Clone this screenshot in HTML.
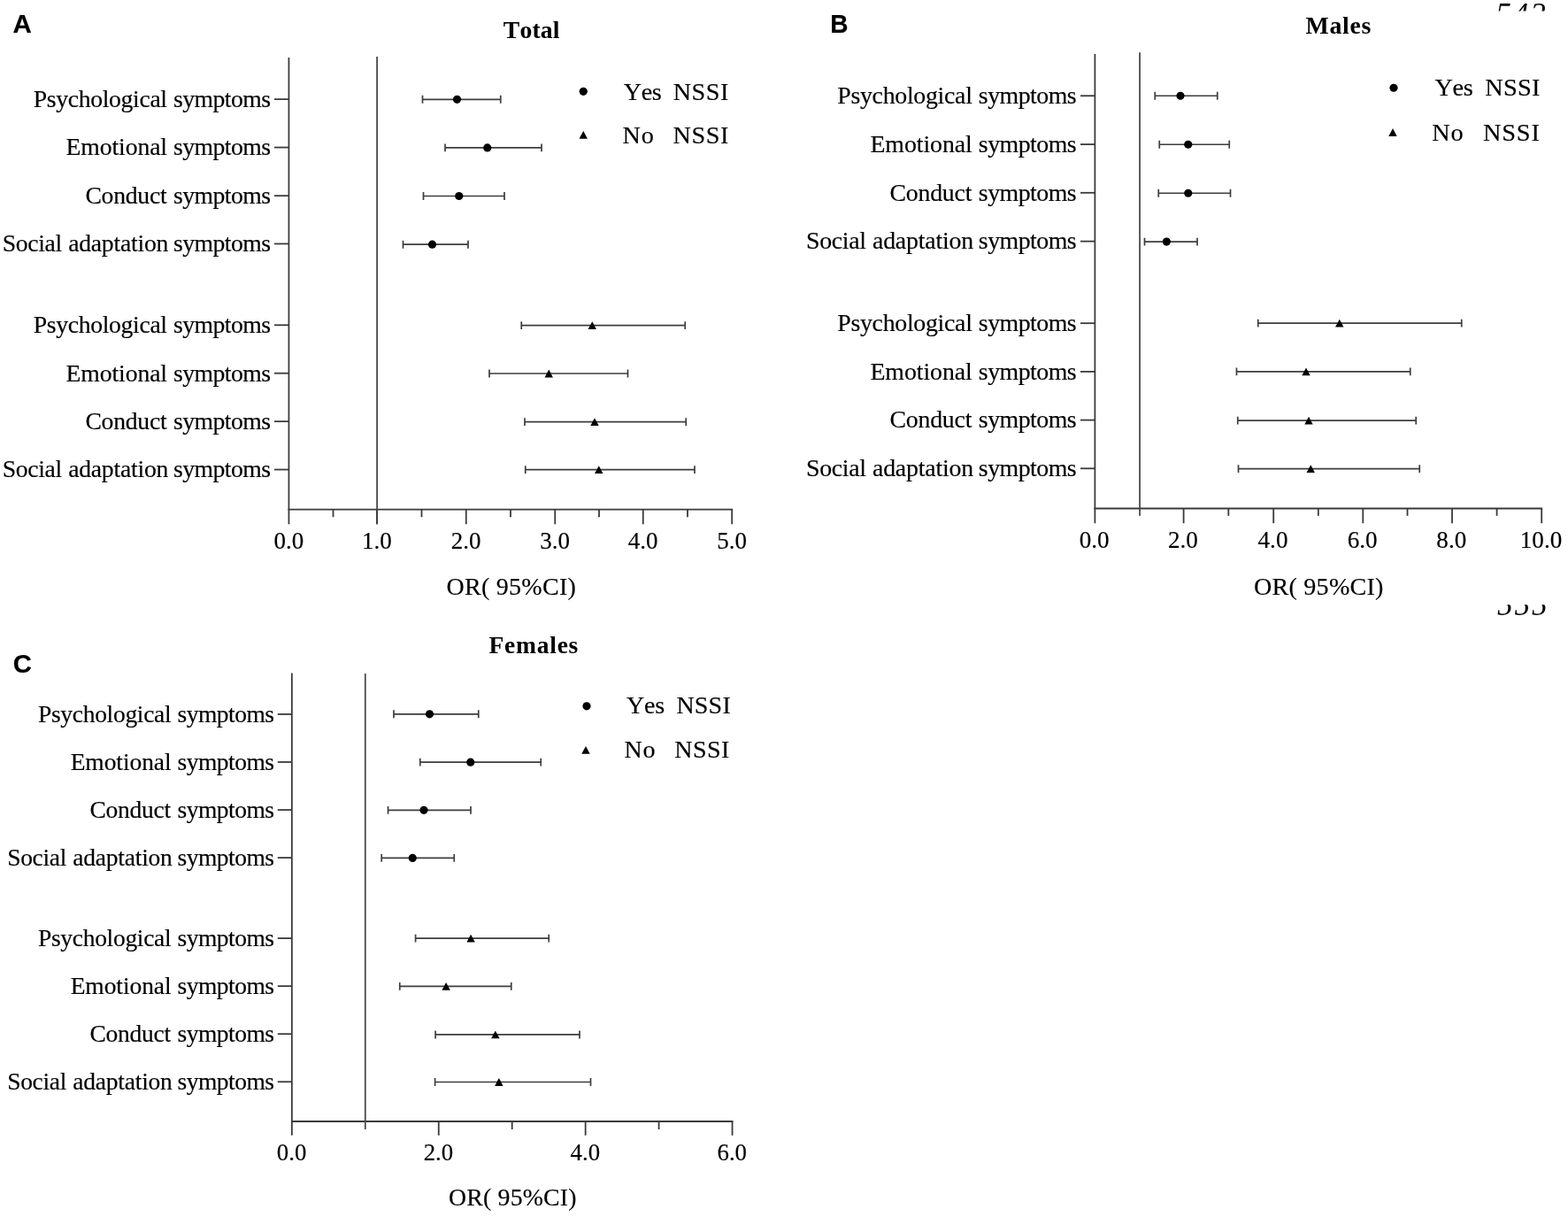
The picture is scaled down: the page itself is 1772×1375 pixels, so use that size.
<!DOCTYPE html>
<html lang="en">
<head>
<meta charset="utf-8">
<title>OR( 95%CI)</title>
<style>
html, body { margin: 0; padding: 0; background: #fff; }
body { width: 1772px; height: 1375px; overflow: hidden; }
svg { display: block; }
text { fill: #000; font-kerning: none; white-space: pre; }
.s text { font-family: "Liberation Serif", "Times New Roman", serif; stroke: #000; stroke-width: 0.16px; }
.t { font-family: "Liberation Serif", "Times New Roman", serif; font-weight: bold; }
.p { font-family: "Liberation Sans", Arial, sans-serif; font-size: 30.5px; font-weight: bold; stroke: #000; stroke-width: 0.2px; }
.n { font-family: "Liberation Serif", "Times New Roman", serif; font-size: 35px; font-style: italic; letter-spacing: 2px; }
</style>
</head>
<body>
<svg width="1772" height="1375" viewBox="0 0 1772 1375">
<defs>
<clipPath id="c1"><rect x="1680" y="0" width="92" height="12.6"/></clipPath>
<clipPath id="c2"><rect x="1680" y="683.2" width="92" height="20"/></clipPath>
</defs>
<rect width="1772" height="1375" fill="#fff"/>
<g clip-path="url(#c1)"><text class="n" x="1690.2" y="28.1">542</text></g>
<g clip-path="url(#c2)"><text class="n" x="1692" y="694.95">555</text></g>
<g stroke="#3a3a3a" stroke-width="1.8" fill="none">
<line x1="326.45" y1="65.1" x2="326.45" y2="592.3"/>
<line x1="325.55" y1="575.55" x2="828.1" y2="575.55"/>
<line x1="426.1" y1="64" x2="426.1" y2="592.3" stroke="#4a4a4a"/>
<line x1="426.1" y1="575.55" x2="426.1" y2="592.3"/>
<line x1="526.75" y1="575.55" x2="526.75" y2="592.3"/>
<line x1="627.25" y1="575.55" x2="627.25" y2="592.3"/>
<line x1="726.75" y1="575.55" x2="726.75" y2="592.3"/>
<line x1="827.2" y1="575.55" x2="827.2" y2="592.3"/>
<line x1="376.5" y1="575.55" x2="376.5" y2="584.2"/>
<line x1="476.5" y1="575.55" x2="476.5" y2="584.2"/>
<line x1="577" y1="575.55" x2="577" y2="584.2"/>
<line x1="677" y1="575.55" x2="677" y2="584.2"/>
<line x1="777" y1="575.55" x2="777" y2="584.2"/>
<line x1="310" y1="112.13" x2="326.45" y2="112.13"/>
<line x1="310" y1="166.57" x2="326.45" y2="166.57"/>
<line x1="310" y1="221.17" x2="326.45" y2="221.17"/>
<line x1="310" y1="275.46" x2="326.45" y2="275.46"/>
<line x1="310" y1="367.3" x2="326.45" y2="367.3"/>
<line x1="310" y1="421.7" x2="326.45" y2="421.7"/>
<line x1="310" y1="476.15" x2="326.45" y2="476.15"/>
<line x1="310" y1="530.55" x2="326.45" y2="530.55"/>
</g>
<g stroke="#3d3d3d" stroke-width="1.7" fill="none">
<path d="M477.5 112.3H565.75M477.5 107.85V116.75M565.75 107.85V116.75"/>
<path d="M503 166.9H612M503 162.45V171.35M612 162.45V171.35"/>
<path d="M478.5 221.5H570M478.5 217.05V225.95M570 217.05V225.95"/>
<path d="M455.5 276.2H529M455.5 271.75V280.65M529 271.75V280.65"/>
<path d="M589.25 367.65H774.25M589.25 363.2V372.1M774.25 363.2V372.1"/>
<path d="M553 422H709.5M553 417.55V426.45M709.5 417.55V426.45"/>
<path d="M593 476.65H775.25M593 472.2V481.1M775.25 472.2V481.1"/>
<path d="M593.75 530.6H785M593.75 526.15V535.05M785 526.15V535.05"/>
</g>
<g fill="#000">
<circle cx="516.5" cy="112.3" r="4.6"/>
<circle cx="550.75" cy="166.9" r="4.6"/>
<circle cx="518.75" cy="221.5" r="4.6"/>
<circle cx="488.5" cy="276.2" r="4.6"/>
<path d="M669.25 363.25L673.95 372.05H664.55Z"/>
<path d="M620.25 417.6L624.95 426.4H615.55Z"/>
<path d="M672 472.25L676.7 481.05H667.3Z"/>
<path d="M676.75 526.2L681.45 535H672.05Z"/>
<circle cx="659.25" cy="103.3" r="4.6"/>
<path d="M659.25 147.9L663.95 156.7H654.55Z"/>
</g>
<g class="s">
<text y="120.93" style="font-size:27.7px;"><tspan x="37.66" style="letter-spacing:-0.33px">Psychological</tspan> <tspan x="195.99" style="letter-spacing:-0.55px">symptoms</tspan></text>
<text y="175.37" style="font-size:27.7px;"><tspan x="74.57" style="letter-spacing:-0.11px">Emotional</tspan> <tspan x="195.99" style="letter-spacing:-0.55px">symptoms</tspan></text>
<text y="229.97" style="font-size:27.7px;"><tspan x="96.39" style="letter-spacing:-0.26px">Conduct</tspan> <tspan x="195.99" style="letter-spacing:-0.55px">symptoms</tspan></text>
<text y="284.26" style="font-size:27.7px;"><tspan x="2.7" style="letter-spacing:-0.33px">Social</tspan> <tspan x="77.13" style="letter-spacing:-0.23px">adaptation</tspan> <tspan x="195.99" style="letter-spacing:-0.55px">symptoms</tspan></text>
<text y="376.1" style="font-size:27.7px;"><tspan x="37.66" style="letter-spacing:-0.33px">Psychological</tspan> <tspan x="195.99" style="letter-spacing:-0.55px">symptoms</tspan></text>
<text y="430.5" style="font-size:27.7px;"><tspan x="74.57" style="letter-spacing:-0.11px">Emotional</tspan> <tspan x="195.99" style="letter-spacing:-0.55px">symptoms</tspan></text>
<text y="484.95" style="font-size:27.7px;"><tspan x="96.39" style="letter-spacing:-0.26px">Conduct</tspan> <tspan x="195.99" style="letter-spacing:-0.55px">symptoms</tspan></text>
<text y="539.35" style="font-size:27.7px;"><tspan x="2.7" style="letter-spacing:-0.33px">Social</tspan> <tspan x="77.13" style="letter-spacing:-0.23px">adaptation</tspan> <tspan x="195.99" style="letter-spacing:-0.55px">symptoms</tspan></text>
<text x="326.25" y="620.2" text-anchor="middle" style="font-size:27px">0.0</text>
<text x="425.9" y="620.2" text-anchor="middle" style="font-size:27px">1.0</text>
<text x="526.55" y="620.2" text-anchor="middle" style="font-size:27px">2.0</text>
<text x="627.05" y="620.2" text-anchor="middle" style="font-size:27px">3.0</text>
<text x="726.55" y="620.2" text-anchor="middle" style="font-size:27px">4.0</text>
<text x="827" y="620.2" text-anchor="middle" style="font-size:27px">5.0</text>
<text y="671.8" style="font-size:28px;"><tspan x="504.48" style="letter-spacing:0.28px">OR( 95%CI)</tspan></text>
<text y="112.5" style="font-size:28.2px;"><tspan x="704.82" style="letter-spacing:-0.46px">Yes</tspan> <tspan x="760.79" style="letter-spacing:0.47px">NSSI</tspan></text>
<text y="162" style="font-size:28.2px;"><tspan x="703.6" style="letter-spacing:0.73px">No</tspan> <tspan x="760.5" style="letter-spacing:0.57px">NSSI</tspan></text>
</g>
<text class="t" y="43" style="font-size:27.7px;"><tspan x="568.73" style="letter-spacing:0.19px">Total</tspan></text>
<text class="p" transform="translate(14.6 37.1) scale(1.015 1)" style="font-size:29.0px">A</text>
<g stroke="#3a3a3a" stroke-width="1.8" fill="none">
<line x1="1237.4" y1="60.9" x2="1237.4" y2="591.2"/>
<line x1="1236.5" y1="574.5" x2="1743.1" y2="574.5"/>
<line x1="1288.05" y1="59.3" x2="1288.05" y2="582.8" stroke="#4a4a4a"/>
<line x1="1337.6" y1="574.5" x2="1337.6" y2="591.2"/>
<line x1="1439.2" y1="574.5" x2="1439.2" y2="591.2"/>
<line x1="1540.3" y1="574.5" x2="1540.3" y2="591.2"/>
<line x1="1641" y1="574.5" x2="1641" y2="591.2"/>
<line x1="1742.2" y1="574.5" x2="1742.2" y2="591.2"/>
<line x1="1388.3" y1="574.5" x2="1388.3" y2="582.8"/>
<line x1="1489.8" y1="574.5" x2="1489.8" y2="582.8"/>
<line x1="1590.5" y1="574.5" x2="1590.5" y2="582.8"/>
<line x1="1691.6" y1="574.5" x2="1691.6" y2="582.8"/>
<line x1="1221" y1="108.25" x2="1237.4" y2="108.25"/>
<line x1="1221" y1="163.1" x2="1237.4" y2="163.1"/>
<line x1="1221" y1="217.8" x2="1237.4" y2="217.8"/>
<line x1="1221" y1="272.65" x2="1237.4" y2="272.65"/>
<line x1="1221" y1="365.2" x2="1237.4" y2="365.2"/>
<line x1="1221" y1="419.9" x2="1237.4" y2="419.9"/>
<line x1="1221" y1="474.6" x2="1237.4" y2="474.6"/>
<line x1="1221" y1="529.3" x2="1237.4" y2="529.3"/>
</g>
<g stroke="#3d3d3d" stroke-width="1.7" fill="none">
<path d="M1305.25 108.25H1375.75M1305.25 103.8V112.7M1375.75 103.8V112.7"/>
<path d="M1310.25 163.26H1389.25M1310.25 158.81V167.71M1389.25 158.81V167.71"/>
<path d="M1309.25 218.26H1390.5M1309.25 213.81V222.71M1390.5 213.81V222.71"/>
<path d="M1293.5 273.1H1353M1293.5 268.65V277.55M1353 268.65V277.55"/>
<path d="M1421.75 365.15H1651.75M1421.75 360.7V369.6M1651.75 360.7V369.6"/>
<path d="M1397.45 419.85H1593.75M1397.45 415.4V424.3M1593.75 415.4V424.3"/>
<path d="M1398.75 475.1H1600.25M1398.75 470.65V479.55M1600.25 470.65V479.55"/>
<path d="M1399.5 529.6H1604.25M1399.5 525.15V534.05M1604.25 525.15V534.05"/>
</g>
<g fill="#000">
<circle cx="1334" cy="108.25" r="4.6"/>
<circle cx="1342.75" cy="163.26" r="4.6"/>
<circle cx="1342.75" cy="218.26" r="4.6"/>
<circle cx="1318.35" cy="273.1" r="4.6"/>
<path d="M1513.75 360.75L1518.45 369.55H1509.05Z"/>
<path d="M1476 415.45L1480.7 424.25H1471.3Z"/>
<path d="M1479 470.7L1483.7 479.5H1474.3Z"/>
<path d="M1481.25 525.2L1485.95 534H1476.55Z"/>
<circle cx="1575" cy="99.25" r="4.6"/>
<path d="M1574 145.1L1578.7 153.9H1569.3Z"/>
</g>
<g class="s">
<text y="117.09" style="font-size:27.84px;"><tspan x="946.22" style="letter-spacing:-0.29px">Psychological</tspan> <tspan x="1105.82" style="letter-spacing:-0.51px">symptoms</tspan></text>
<text y="171.94" style="font-size:27.84px;"><tspan x="983.42" style="letter-spacing:-0.07px">Emotional</tspan> <tspan x="1105.82" style="letter-spacing:-0.51px">symptoms</tspan></text>
<text y="226.64" style="font-size:27.84px;"><tspan x="1005.42" style="letter-spacing:-0.22px">Conduct</tspan> <tspan x="1105.82" style="letter-spacing:-0.51px">symptoms</tspan></text>
<text y="281.49" style="font-size:27.84px;"><tspan x="910.98" style="letter-spacing:-0.29px">Social</tspan> <tspan x="986.01" style="letter-spacing:-0.2px">adaptation</tspan> <tspan x="1105.82" style="letter-spacing:-0.51px">symptoms</tspan></text>
<text y="374.04" style="font-size:27.84px;"><tspan x="946.22" style="letter-spacing:-0.29px">Psychological</tspan> <tspan x="1105.82" style="letter-spacing:-0.51px">symptoms</tspan></text>
<text y="428.74" style="font-size:27.84px;"><tspan x="983.42" style="letter-spacing:-0.07px">Emotional</tspan> <tspan x="1105.82" style="letter-spacing:-0.51px">symptoms</tspan></text>
<text y="483.44" style="font-size:27.84px;"><tspan x="1005.42" style="letter-spacing:-0.22px">Conduct</tspan> <tspan x="1105.82" style="letter-spacing:-0.51px">symptoms</tspan></text>
<text y="538.14" style="font-size:27.84px;"><tspan x="910.98" style="letter-spacing:-0.29px">Social</tspan> <tspan x="986.01" style="letter-spacing:-0.2px">adaptation</tspan> <tspan x="1105.82" style="letter-spacing:-0.51px">symptoms</tspan></text>
<text x="1236.7" y="619.4" text-anchor="middle" style="font-size:27.13px">0.0</text>
<text x="1336.9" y="619.4" text-anchor="middle" style="font-size:27.13px">2.0</text>
<text x="1438.5" y="619.4" text-anchor="middle" style="font-size:27.13px">4.0</text>
<text x="1539.6" y="619.4" text-anchor="middle" style="font-size:27.13px">6.0</text>
<text x="1640.3" y="619.4" text-anchor="middle" style="font-size:27.13px">8.0</text>
<text x="1741.5" y="619.4" text-anchor="middle" style="font-size:27.13px">10.0</text>
<text y="671.6" style="font-size:28.14px;"><tspan x="1416.97" style="letter-spacing:0.22px">OR( 95%CI)</tspan></text>
<text y="108.3" style="font-size:28.34px;"><tspan x="1621.42" style="letter-spacing:-0.36px">Yes</tspan> <tspan x="1678.29" style="letter-spacing:0.27px">NSSI</tspan></text>
<text y="158.85" style="font-size:28.34px;"><tspan x="1618.19" style="letter-spacing:0.96px">No</tspan> <tspan x="1675.89" style="letter-spacing:0.87px">NSSI</tspan></text>
</g>
<text class="t" y="37.95" style="font-size:27.84px;"><tspan x="1475.48" style="letter-spacing:0.72px">Males</tspan></text>
<text class="p" transform="translate(938.15 37.1) scale(0.958 1)" style="font-size:29.2px">B</text>
<g stroke="#3a3a3a" stroke-width="1.8" fill="none">
<line x1="329.85" y1="760.5" x2="329.85" y2="1282.8"/>
<line x1="328.95" y1="1267" x2="828.45" y2="1267"/>
<line x1="412.8" y1="761" x2="412.8" y2="1276" stroke="#4a4a4a"/>
<line x1="495.75" y1="1267" x2="495.75" y2="1282.8"/>
<line x1="661.65" y1="1267" x2="661.65" y2="1282.8"/>
<line x1="827.55" y1="1267" x2="827.55" y2="1282.8"/>
<line x1="578.7" y1="1267" x2="578.7" y2="1276"/>
<line x1="744.6" y1="1267" x2="744.6" y2="1276"/>
<line x1="313.75" y1="806.95" x2="329.85" y2="806.95"/>
<line x1="313.75" y1="861" x2="329.85" y2="861"/>
<line x1="313.75" y1="915.05" x2="329.85" y2="915.05"/>
<line x1="313.75" y1="969.1" x2="329.85" y2="969.1"/>
<line x1="313.75" y1="1060.1" x2="329.85" y2="1060.1"/>
<line x1="313.75" y1="1114.15" x2="329.85" y2="1114.15"/>
<line x1="313.75" y1="1168.2" x2="329.85" y2="1168.2"/>
<line x1="313.75" y1="1222.25" x2="329.85" y2="1222.25"/>
</g>
<g stroke="#3d3d3d" stroke-width="1.7" fill="none">
<path d="M445 806.8H540.75M445 802.35V811.25M540.75 802.35V811.25"/>
<path d="M474.75 861.15H611.25M474.75 856.7V865.6M611.25 856.7V865.6"/>
<path d="M438.55 915.35H532M438.55 910.9V919.8M532 910.9V919.8"/>
<path d="M431.2 969.4H513.25M431.2 964.95V973.85M513.25 964.95V973.85"/>
<path d="M469.6 1060.15H620.25M469.6 1055.7V1064.6M620.25 1055.7V1064.6"/>
<path d="M451.75 1114.4H577.75M451.75 1109.95V1118.85M577.75 1109.95V1118.85"/>
<path d="M492.1 1168.95H655M492.1 1164.5V1173.4M655 1164.5V1173.4"/>
<path d="M491.6 1222.5H667.5M491.6 1218.05V1226.95M667.5 1218.05V1226.95"/>
</g>
<g fill="#000">
<circle cx="485.5" cy="806.8" r="4.6"/>
<circle cx="531.75" cy="861.15" r="4.6"/>
<circle cx="479" cy="915.35" r="4.6"/>
<circle cx="466.25" cy="969.4" r="4.6"/>
<path d="M532.1 1055.75L536.8 1064.55H527.4Z"/>
<path d="M504.1 1110L508.8 1118.8H499.4Z"/>
<path d="M559.85 1164.55L564.55 1173.35H555.15Z"/>
<path d="M563.85 1218.1L568.55 1226.9H559.15Z"/>
<circle cx="663" cy="797.8" r="4.6"/>
<path d="M662 843L666.7 851.8H657.3Z"/>
</g>
<g class="s">
<text y="815.69" style="font-size:27.51px;"><tspan x="42.95" style="letter-spacing:-0.3px">Psychological</tspan> <tspan x="200.49" style="letter-spacing:-0.51px">symptoms</tspan></text>
<text y="869.74" style="font-size:27.51px;"><tspan x="79.67" style="letter-spacing:-0.08px">Emotional</tspan> <tspan x="200.49" style="letter-spacing:-0.51px">symptoms</tspan></text>
<text y="923.79" style="font-size:27.51px;"><tspan x="101.39" style="letter-spacing:-0.23px">Conduct</tspan> <tspan x="200.49" style="letter-spacing:-0.51px">symptoms</tspan></text>
<text y="977.84" style="font-size:27.51px;"><tspan x="8.17" style="letter-spacing:-0.3px">Social</tspan> <tspan x="82.22" style="letter-spacing:-0.21px">adaptation</tspan> <tspan x="200.49" style="letter-spacing:-0.51px">symptoms</tspan></text>
<text y="1068.84" style="font-size:27.51px;"><tspan x="42.95" style="letter-spacing:-0.3px">Psychological</tspan> <tspan x="200.49" style="letter-spacing:-0.51px">symptoms</tspan></text>
<text y="1122.89" style="font-size:27.51px;"><tspan x="79.67" style="letter-spacing:-0.08px">Emotional</tspan> <tspan x="200.49" style="letter-spacing:-0.51px">symptoms</tspan></text>
<text y="1176.94" style="font-size:27.51px;"><tspan x="101.39" style="letter-spacing:-0.23px">Conduct</tspan> <tspan x="200.49" style="letter-spacing:-0.51px">symptoms</tspan></text>
<text y="1230.99" style="font-size:27.51px;"><tspan x="8.17" style="letter-spacing:-0.3px">Social</tspan> <tspan x="82.22" style="letter-spacing:-0.21px">adaptation</tspan> <tspan x="200.49" style="letter-spacing:-0.51px">symptoms</tspan></text>
<text x="329.55" y="1311" text-anchor="middle" style="font-size:26.81px">0.0</text>
<text x="495.45" y="1311" text-anchor="middle" style="font-size:26.81px">2.0</text>
<text x="661.35" y="1311" text-anchor="middle" style="font-size:26.81px">4.0</text>
<text x="827.25" y="1311" text-anchor="middle" style="font-size:26.81px">6.0</text>
<text y="1362.3" style="font-size:27.8px;"><tspan x="507.09" style="letter-spacing:0.17px">OR( 95%CI)</tspan></text>
<text y="806.45" style="font-size:28px;"><tspan x="708.12" style="letter-spacing:-0.26px">Yes</tspan> <tspan x="764.4" style="letter-spacing:0.21px">NSSI</tspan></text>
<text y="856.1" style="font-size:28px;"><tspan x="705.5" style="letter-spacing:0.86px">No</tspan> <tspan x="762.2" style="letter-spacing:0.51px">NSSI</tspan></text>
</g>
<text class="t" y="737.7" style="font-size:27.51px;"><tspan x="552.39" style="letter-spacing:0.79px">Females</tspan></text>
<text class="p" transform="translate(14.65 759.6) scale(0.968 1)" style="font-size:30.3px">C</text>
</svg>
</body>
</html>
